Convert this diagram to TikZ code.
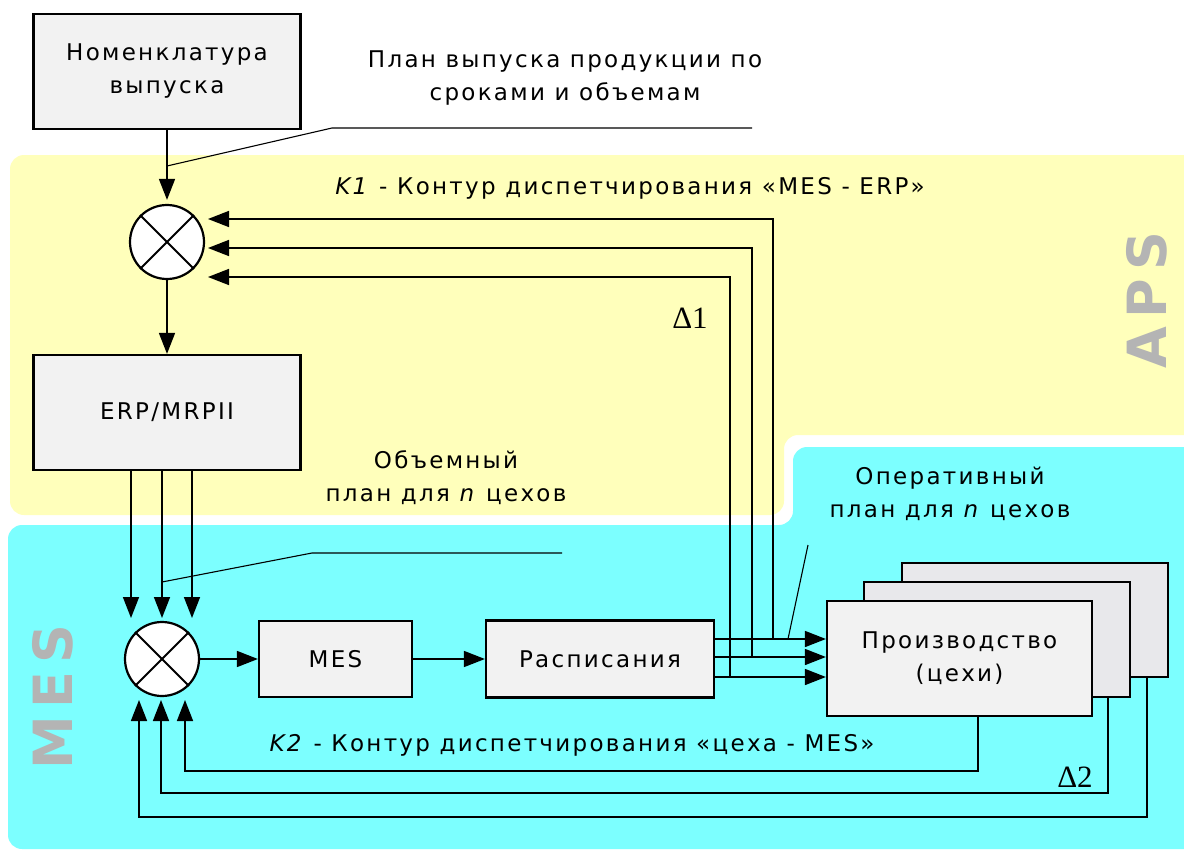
\documentclass[tikz,border=0pt]{standalone}
\usepackage{fontspec}
\setmainfont{DejaVu Sans}[LetterSpace=10]
\newfontfamily\deltafont{Liberation Serif}
\newfontfamily\zonefont{DejaVu Sans}[LetterSpace=0]
\usetikzlibrary{arrows.meta}

\definecolor{apsyellow}{RGB}{255,255,187}
\definecolor{mescyan}{RGB}{124,255,255}
\definecolor{boxgray}{RGB}{242,242,242}
\definecolor{backgray}{RGB}{232,232,235}
\definecolor{zonegray}{RGB}{180,180,180}

\newcommand{\mainsz}{\fontsize{23}{33}\selectfont}

\begin{document}
\begin{tikzpicture}[x=1pt,y=-1pt,
  box/.style={draw=black, line width=2.2pt, fill=boxgray, inner sep=0pt, align=center, font=\mainsz},
  backbox/.style={box, fill=backgray},
  sum/.style={circle, draw=black, line width=2.2pt, fill=white, minimum size=74pt, inner sep=0pt},
  link/.style={line width=1.6pt, draw=black},
  thinlink/.style={line width=1.1pt, draw=black},
  arr/.style={link, -{Triangle[length=21pt,width=16pt]}},
  lbl/.style={inner sep=0pt, align=center, font=\mainsz},
  delta/.style={inner sep=0pt, font=\deltafont\fontsize{31}{31}\selectfont},
  zone/.style={inner sep=0pt, rotate=90, text=zonegray, font=\zonefont\bfseries\fontsize{54}{54}\selectfont}
]
\useasboundingbox (0,0) rectangle (1184,851);
\clip (0,0) rectangle (1184,851);

% APS and MES zones
\fill[apsyellow, rounded corners=14pt]
  (10,155) -- (1210,155) -- (1210,435) -- (784,435) -- (784,515) -- (10,515) -- cycle;
\fill[mescyan, rounded corners=14pt]
  (8,525) -- (793,525) -- (793,447) -- (1210,447) -- (1210,849) -- (8,849) -- cycle;

\node[zone] (aps) at (1147,300) {A\hspace{8pt}P\hspace{8pt}S};
\node[zone] (meszone) at (53,697) {M\hspace{8pt}E\hspace{8pt}S};

% blocks
\node[box, minimum width=267pt, minimum height=115pt] (nom) at (167,71.5) {Номенклатура\\выпуска};
\node[sum] (s1) at (167,242) {};
\node[box, minimum width=267pt, minimum height=115pt] (erp) at (167,412.5) {ERP/MRPII};
\node[sum] (s2) at (162,659) {};
\node[box, minimum width=153pt, minimum height=76pt] (mes) at (335.5,659) {MES};
\node[box, minimum width=228pt, minimum height=77pt] (rasp) at (600,659) {Расписания};
\node[backbox, minimum width=266pt, minimum height=114pt] (prodb) at (1035,620) {};
\node[backbox, minimum width=266pt, minimum height=115pt] (prodm) at (997,639.5) {};
\node[box, minimum width=265pt, minimum height=115pt] (prodf) at (959.5,658.5) {Производство\\(цехи)};

% crosses in the summing junctions
\foreach \s in {s1,s2}{
  \draw[line width=2pt] (\s.north east) -- (\s.south west);
  \draw[line width=2pt] (\s.north west) -- (\s.south east);
}

% forward path
\draw[arr] (nom.south) -- ([yshift=4pt]s1.north);
\draw[arr] (s1.south) -- (erp.north);
\coordinate (ea) at (131,618);
\coordinate (eb) at (162,618);
\coordinate (ec) at (192,618);
\draw[arr] (erp.south -| ea) -- (ea);
\draw[arr] (erp.south -| eb) -- (eb);
\draw[arr] (erp.south -| ec) -- (ec);
\draw[arr] (s2.east) -- (mes.west);
\draw[arr] (mes.east) -- (rasp.west);
\coordinate (ra) at (714,639);
\coordinate (rb) at (714,657);
\coordinate (rc) at (714,677);
\draw[arr] (ra) -- (ra -| prodf.west);
\draw[arr] (rb) -- (rb -| prodf.west);
\draw[arr] (rc) -- (rc -| prodf.west);

% K1 feedback loop
\coordinate (ka) at (773,639);
\coordinate (kb) at (752,657);
\coordinate (kc) at (730,677);
\coordinate (ta) at (208,219);
\coordinate (tb) at (208,248);
\coordinate (tc) at (208,277);
\draw[arr] (ka) |- (ta);
\draw[arr] (kb) |- (tb);
\draw[arr] (kc) |- (tc);

% K2 feedback loop
\coordinate (qa) at (978,771);
\coordinate (qb) at (1108,793);
\coordinate (qc) at (1147,817);
\coordinate (ua) at (185,700);
\coordinate (ub) at (161,700);
\coordinate (uc) at (139,700);
\draw[arr] (prodf.south -| qa) -- (qa) -| (ua);
\draw[arr] (prodm.south -| qb) -- (qb) -| (ub);
\draw[arr] (prodb.south -| qc) -- (qc) -| (uc);

% leader lines of the plan labels
\coordinate (la) at (167,166);
\coordinate (lb) at (332,128);
\coordinate (lc) at (752,128);
\draw[thinlink] (la) -- (lb) -- (lc);
\coordinate (ma) at (162,582);
\coordinate (mb) at (312,553);
\coordinate (mc) at (562,553);
\draw[thinlink] (ma) -- (mb) -- (mc);
\coordinate (na) at (788,639);
\coordinate (nb) at (808,545);
\draw[thinlink] (na) -- (nb);

% labels
\node[lbl] (plan) at (565,78.5) {План выпуска продукции по\\сроками и объемам};
\node[lbl] (k1) at (630,188) {\textit{K1} - Контур диспетчирования «MES - ERP»};
\node[lbl] (vol) at (446,477.5) {Объемный\\план для \textit{n} цехов};
\node[lbl] (oper) at (950,494) {Оперативный\\план для \textit{n} цехов};
\node[lbl] (k2) at (572,745) {\textit{K2} - Контур диспетчирования «цеха - MES»};
\node[delta] (d1) at (690,318) {Δ1};
\node[delta] (d2) at (1075,777) {Δ2};
\end{tikzpicture}
\end{document}
